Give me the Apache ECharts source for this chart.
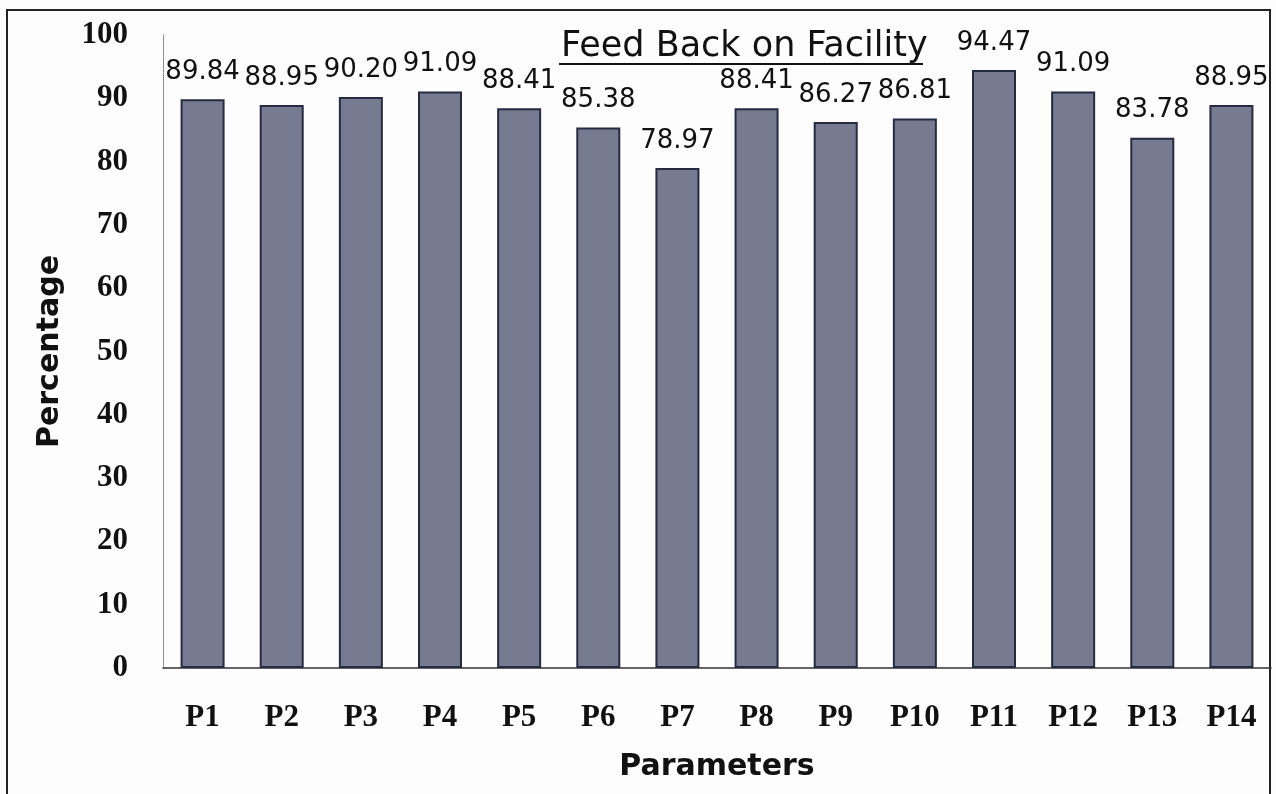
<!DOCTYPE html>
<html>
<head>
<meta charset="utf-8">
<script src="https://cdn.jsdelivr.net/npm/echarts@6/dist/echarts.min.js"></script>
<style>
html,body{margin:0;padding:0;background:#fdfdfd;}
#chart{width:1276px;height:794px;}
</style>
</head>
<body>
<div id="chart"></div>
<script>
const categories = ['P1','P2','P3','P4','P5','P6','P7','P8','P9','P10','P11','P12','P13','P14'];
const percentages = [89.84, 88.95, 90.20, 91.09, 88.41, 85.38, 78.97, 88.41, 86.27, 86.81, 94.47, 91.09, 83.78, 88.95];
const yTicks = [0,10,20,30,40,50,60,70,80,90,100];
const titleText = 'Feed Back on Facility';

const chart = echarts.init(document.getElementById('chart'));
chart.setOption({
  backgroundColor: '#fdfdfd',
  animation: false,
  title: {
    text: titleText,
    left: 556,
    top: 24,
    textStyle: {fontFamily: 'DejaVu Sans', fontSize: 35, fontWeight: 'normal', color: '#111'}
  },
  graphic: [
    {type: 'rect', shape: {x: 7, y: 10, width: 1263, height: 800}, style: {fill: 'none', stroke: '#222', lineWidth: 2}, silent: true},
    {type: 'line', shape: {x1: 559, y1: 64, x2: 923, y2: 64}, style: {stroke: '#111', lineWidth: 2}, silent: true}
  ],
  grid: {left: 163, right: 5, top: 35, bottom: 126, containLabel: false},
  xAxis: {
    type: 'category',
    data: categories,
    name: 'Parameters',
    nameLocation: 'middle',
    nameGap: 84,
    nameTextStyle: {fontFamily: 'DejaVu Sans', fontSize: 30, fontWeight: 'bold', color: '#111'},
    axisLine: {show: true, lineStyle: {color: '#333', width: 1.5}},
    axisTick: {show: false},
    axisLabel: {margin: 34, fontFamily: 'Liberation Serif', fontSize: 31, fontWeight: 'bold', color: '#111'}
  },
  yAxis: {
    type: 'value',
    min: yTicks[0],
    max: yTicks[yTicks.length - 1],
    interval: yTicks[1] - yTicks[0],
    name: 'Percentage',
    nameLocation: 'middle',
    nameGap: 98,
    nameRotate: 90,
    nameTextStyle: {fontFamily: 'DejaVu Sans', fontSize: 30, fontWeight: 'bold', color: '#111'},
    axisLine: {show: true, lineStyle: {color: '#777', width: 1, type: 'dotted'}},
    axisTick: {show: false},
    splitLine: {show: false},
    axisLabel: {margin: 35, fontFamily: 'Liberation Serif', fontSize: 31, fontWeight: 'bold', color: '#111'}
  },
  series: [{
    type: 'bar',
    data: percentages,
    barWidth: 44,
    itemStyle: {color: '#767b92', borderColor: '#262b42', borderWidth: 2},
    label: {
      show: true,
      position: 'top',
      distance: 14,
      formatter: p => p.value.toFixed(2),
      fontFamily: 'DejaVu Sans',
      fontSize: 26,
      color: '#111'
    }
  }]
});
</script>
</body>
</html>
